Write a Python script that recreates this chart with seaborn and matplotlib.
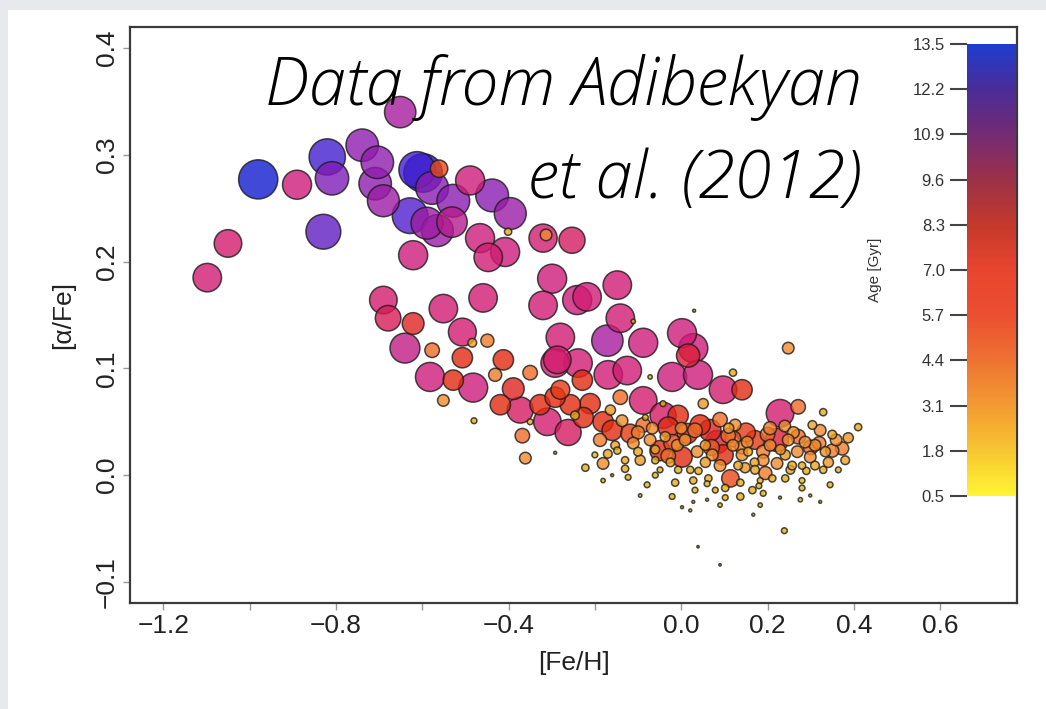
import numpy as np
import pandas as pd
import matplotlib
matplotlib.use("Agg")
import matplotlib.pyplot as plt
import seaborn as sns
from matplotlib.colors import LinearSegmentedColormap, Normalize
from matplotlib.patches import Rectangle
from matplotlib import font_manager
import matplotlib.cm as cm

# ---------------- data ----------------
feh = [-1.098, -1.050, -0.980, -0.890, -0.820, -0.809, -0.829, -0.739, -0.704, -0.709,
       -0.690, -0.651, -0.612, -0.598, -0.561, -0.577, -0.528, -0.628, -0.589, -0.531,
       -0.565, -0.489, -0.438, -0.396, -0.466, -0.447, -0.408, -0.401, -0.621, -0.320,
       -0.313, -0.253, -0.299, -0.320, -0.241, -0.218, -0.148, -0.141, -0.111, -0.171,
       -0.088, 0.002, 0.028, 0.016, -0.021, 0.039, -0.280, 0.030, -0.292, -0.239,
       -0.169, -0.125, -0.690, -0.679, -0.551, -0.459, -0.621, -0.640, -0.577, -0.507,
       -0.449, -0.507, -0.582, -0.528, -0.482, -0.551, -0.480, -0.412, -0.389, -0.350,
       -0.310, -0.292, -0.287, -0.229, -0.262, -0.368, -0.350, -0.361, -0.292, -0.211,
       -0.227, -0.181, -0.141, -0.088, -0.222, -0.181, -0.148, -0.123, -0.079, -0.072,
       -0.042, 0.248, 0.120, 0.097, 0.141, 0.051, 0.229, 0.271, 0.329, 0.410,
       0.222, 0.271, 0.322, 0.350, 0.373, 0.083, -0.049, 0.002, -0.030, -0.118,
       -0.088, 0.014, -0.042, -0.007, -0.111, -0.009, 0.037, 0.097, 0.141, 0.190,
       0.190, 0.120, 0.153, 0.090, 0.114, 0.195, 0.222, 0.269, 0.299, 0.329,
       0.280, -0.130, -0.014, -0.021, 0.028, 0.063, 0.102, 0.102, 0.137, 0.165,
       0.190, 0.241, 0.280, 0.280, 0.229, 0.299, 0.322, 0.167, 0.239, 0.039,
       0.090, 0.060, 0.028, 0.021, 0.002, -0.083, -0.188, -0.160, -0.072, -0.060,
       -0.095, 0.044, 0.067, 0.021, 0.056, 0.148, 0.171, 0.241, 0.310, 0.341,
       0.364, -0.164, -0.246, -0.200, -0.049, 0.079, 0.183, 0.253, -0.160, -0.484,
       -0.431, -0.327, -0.419, -0.373, -0.280, -0.257,
       -0.153, -0.137, -0.100, -0.067, -0.037, -0.025, 0.009, 0.032, 0.056, 0.072,
       0.109, 0.132, 0.155, 0.171, 0.206, 0.211, 0.248, 0.257, 0.287, 0.310,
       0.334, 0.359, 0.380, 0.387, 0.304, 0.206, 0.125, 0.032, -0.007, -0.060,
       0.137, 0.276, 0.345, 0.183, 0.090, -0.095, -0.181,
       -0.17, -0.13, -0.10, -0.06, -0.03, 0.00, 0.04, 0.07, 0.11, 0.14,
       0.17, 0.20, 0.23, 0.26, 0.29, 0.32, 0.35, 0.06, 0.12, 0.18,
       0.24, -0.02, 0.09, 0.15, 0.30]

alpha_fe = [0.185, 0.217, 0.277, 0.272, 0.298, 0.278, 0.228, 0.309, 0.293, 0.273,
            0.257, 0.340, 0.286, 0.283, 0.287, 0.269, 0.257, 0.243, 0.236, 0.237,
            0.229, 0.276, 0.262, 0.245, 0.222, 0.204, 0.209, 0.228, 0.206, 0.222,
            0.225, 0.220, 0.184, 0.159, 0.164, 0.167, 0.178, 0.147, 0.144, 0.126,
            0.124, 0.133, 0.119, 0.112, 0.092, 0.094, 0.129, 0.154, 0.105, 0.105,
            0.094, 0.098, 0.164, 0.147, 0.156, 0.166, 0.142, 0.119, 0.117, 0.134,
            0.126, 0.110, 0.092, 0.089, 0.082, 0.070, 0.051, 0.108, 0.081, 0.096,
            0.050, 0.073, 0.108, 0.089, 0.040, 0.037, 0.050, 0.016, 0.021, 0.067,
            0.054, 0.050, 0.073, 0.070, 0.007, 0.011, 0.023, -0.002, -0.009, 0.092,
            0.067, 0.119, 0.096, 0.080, 0.080, 0.067, 0.058, 0.064, 0.059, 0.045,
            0.033, 0.036, 0.042, 0.023, 0.025, 0.031, 0.023, 0.017, 0.045, 0.039,
            0.047, 0.039, 0.056, 0.056, 0.030, 0.028, 0.022, 0.019, 0.019, 0.022,
            0.014, 0.028, 0.031, 0.009, -0.003, 0.002, 0.011, 0.022, 0.017, 0.005,
            0.009, 0.014, -0.007, -0.020, -0.005, -0.003, -0.012, -0.021, -0.020, -0.014,
            -0.017, -0.003, -0.005, -0.012, -0.021, -0.019, -0.025, -0.037, -0.052, -0.067,
            -0.084, -0.023, -0.025, -0.033, -0.030, 0.054, 0.033, 0.042, 0.033, 0.014,
            0.014, 0.047, 0.042, 0.005, 0.012, 0.007, 0.033, 0.019, 0.028, 0.012,
            0.005, 0.061, 0.056, 0.019, 0.005, -0.014, -0.005, 0.005, 0.000, 0.124,
            0.094, 0.066, 0.066, 0.061, 0.080, 0.066,
            0.028, 0.051, 0.022, 0.044, 0.036, 0.012, 0.033, 0.042, 0.028, 0.019,
            0.037, 0.009, 0.022, 0.005, 0.028, -0.003, 0.033, 0.009, 0.031, 0.009,
            0.022, 0.033, 0.014, 0.035, 0.047, 0.044, 0.047, -0.014, 0.005, 0.000,
            -0.007, -0.023, -0.009, -0.028, -0.028, -0.019, -0.005,
            0.020, 0.006, 0.040, 0.024, 0.018, 0.044, 0.004, 0.026, 0.044, 0.026,
            0.012, 0.038, 0.024, 0.040, 0.004, 0.030, 0.038, -0.008, 0.034, -0.010,
            0.046, 0.030, 0.052, 0.040, 0.026]

age = [9.8, 9.5, 13.5, 10.0, 12.5, 11.5, 12.0, 11.2, 11.2, 11.2,
       11.0, 10.8, 12.5, 13.3, 6.0, 11.3, 11.3, 12.3, 11.0, 10.5,
       11.0, 10.0, 11.3, 11.0, 10.0, 9.8, 10.0, 2.5, 10.0, 9.7,
       4.0, 9.0, 10.0, 9.8, 10.0, 9.8, 9.8, 9.8, 1.5, 10.8,
       10.0, 10.0, 10.0, 8.0, 10.0, 10.0, 9.8, 1.0, 9.8, 9.8,
       9.8, 9.8, 9.5, 8.8, 9.8, 9.8, 7.5, 10.3, 5.0, 9.6,
       4.5, 7.0, 10.0, 7.0, 10.0, 4.0, 2.0, 7.0, 7.5, 5.0,
       9.5, 7.0, 9.5, 7.0, 9.0, 5.0, 2.0, 4.0, 1.0, 7.0,
       7.0, 7.0, 5.0, 9.5, 2.5, 4.0, 2.5, 2.0, 2.0, 1.5,
       2.0, 4.0, 2.5, 9.5, 7.0, 3.5, 9.5, 5.0, 2.5, 2.5,
       8.0, 5.0, 4.0, 4.5, 4.5, 8.0, 7.0, 7.0, 7.0, 6.5,
       5.0, 7.0, 9.0, 7.0, 4.0, 4.0, 4.0, 7.0, 4.0, 4.5,
       4.0, 4.0, 4.0, 4.0, 6.0, 4.5, 4.0, 4.0, 4.0, 2.5,
       2.5, 2.5, 2.5, 2.0, 2.5, 2.5, 2.5, 2.0, 2.5, 2.5,
       2.0, 2.5, 2.0, 2.0, 1.0, 1.0, 1.0, 1.0, 2.0, 0.8,
       0.8, 1.0, 1.0, 1.0, 1.0, 2.0, 4.5, 7.0, 4.0, 2.5,
       3.5, 7.0, 7.5, 2.5, 3.5, 3.5, 6.5, 3.5, 4.0, 3.5,
       2.0, 3.5, 3.0, 2.0, 2.0, 2.0, 2.0, 3.0, 1.0, 3.0,
       4.5, 7.0, 7.0, 9.0, 6.5, 7.0,
       3.0, 4.0, 3.0, 4.0, 3.5, 3.0, 4.0, 5.0, 3.5, 4.0,
       5.0, 3.0, 3.0, 3.0, 4.0, 2.5, 4.0, 3.0, 4.0, 3.0,
       3.5, 4.0, 3.0, 3.5, 3.0, 4.5, 4.0, 2.0, 2.5, 2.0,
       2.5, 1.5, 2.0, 1.5, 1.5, 1.2, 1.5,
       3.0, 2.5, 4.5, 3.0, 5.0, 4.0, 2.5, 5.5, 3.5, 4.5,
       3.0, 5.0, 3.5, 4.0, 2.5, 4.5, 3.0, 2.0, 5.5, 2.0,
       4.0, 6.0, 5.0, 6.5, 5.0]

xticks = [-1.2, -1.0, -0.8, -0.6, -0.4, -0.2, 0.0, 0.2, 0.4, 0.6]
xticklabels = ["\u22121.2", "", "\u22120.8", "", "\u22120.4", "", "0.0", "0.2", "0.4", "0.6"]
yticks = [-0.1, 0.0, 0.1, 0.2, 0.3, 0.4]
yticklabels = ["\u22120.1", "0.0", "0.1", "0.2", "0.3", "0.4"]
cbar_ticks = [0.5, 1.8, 3.1, 4.4, 5.7, 7.0, 8.3, 9.6, 10.9, 12.2, 13.5]
cbar_ticklabels = ["0.5", "1.8", "3.1", "4.4", "5.7", "7.0", "8.3", "9.6", "10.9", "12.2", "13.5"]

# ---------------- styles ----------------
point_nodes = [(0.5, "#e8c800"), (2.0, "#e6b410"), (3.0, "#eaa420"), (4.0, "#f08a2c"),
               (5.0, "#ef6c28"), (6.0, "#e84818"), (7.0, "#e22a10"), (8.0, "#dc1e38"),
               (9.0, "#d61a60"), (10.0, "#d01c78"), (11.3, "#8a1cb2"), (12.5, "#461ed0"),
               (13.5, "#121ccf")]
bar_nodes = [(0.5, "#fff533"), (1.8, "#f8c532"), (3.1, "#f29a32"), (4.4, "#ee7232"),
             (5.7, "#eb4f30"), (7.0, "#e8452f"), (8.3, "#c4392a"), (9.6, "#9c3148"),
             (10.9, "#742b72"), (12.2, "#4a2c98"), (13.5, "#1f3ccf")]
vmin, vmax = 0.5, 13.5


def make_cmap(name, nodes):
    return LinearSegmentedColormap.from_list(
        name, [((v - vmin) / (vmax - vmin), c) for v, c in nodes])


pt_cmap = make_cmap("pts", point_nodes)
bar_cmap = make_cmap("bar", bar_nodes)

sns.set_theme(style="white")
plt.rcParams["font.family"] = ["Liberation Sans", "DejaVu Sans"]

# choose a light italic humanist face for the overlay caption
overlay_family, overlay_weight = "Lato", "normal"
for fam in ["Open Sans", "Noto Sans", "Roboto", "Lato"]:
    found = [f for f in font_manager.fontManager.ttflist
             if f.name == fam and f.style == "italic" and f.weight in (300, "light")]
    if found:
        overlay_family, overlay_weight = fam, 300
        break

W, H = 1046, 709
fig = plt.figure(figsize=(W / 100, H / 100), dpi=100, facecolor="#e8e9ed")
fig.add_artist(Rectangle((8 / W, 0), 1, 1 - 10 / H, transform=fig.transFigure,
                         facecolor="white", edgecolor="none", zorder=-5))

ax = fig.add_axes([130 / W, 1 - 603 / H, (1017 - 130) / W, (603 - 27) / H])

df = pd.DataFrame({"feh": feh, "afe": alpha_fe, "age": age})
df["area"] = df["age"] ** 2
df = df.sort_values("age", ascending=False).reset_index(drop=True)

k = 4.36
sns.scatterplot(data=df, x="feh", y="afe", hue="age", palette=pt_cmap,
                hue_norm=(vmin, vmax), size="area",
                sizes=(k * vmin ** 2, k * vmax ** 2), size_norm=(vmin ** 2, vmax ** 2),
                alpha=0.8, edgecolor="#1c1c1c", linewidth=1.1, legend=False, ax=ax)

ax.set_xlim(-1.277, 0.778)
ax.set_ylim(-0.1197, 0.4197)
ax.set_xticks(xticks)
ax.set_xticklabels(xticklabels)
ax.set_yticks(yticks)
ax.set_yticklabels(yticklabels, rotation=90, va="center")
ax.tick_params(axis="both", direction="out", length=5, width=1, color="#999999",
               labelsize=19, labelcolor="#222222", pad=3, bottom=True, left=True)
for s in ax.spines.values():
    s.set_color("#3a3a3a")
    s.set_linewidth(1.6)
ax.set_xlabel("[Fe/H]", fontsize=19, color="#222222", labelpad=9)
ax.set_ylabel("[\u03b1/Fe]", fontsize=19, color="#222222", labelpad=14)

# colorbar inside the frame on the right
cax = fig.add_axes([967 / W, 1 - 496 / H, 49 / W, 452 / H])
sm = cm.ScalarMappable(norm=Normalize(vmin, vmax), cmap=bar_cmap)
cb = fig.colorbar(sm, cax=cax, ticks=cbar_ticks)
cb.outline.set_visible(False)
cb.set_ticklabels(cbar_ticklabels)
cax.yaxis.set_ticks_position("left")
cax.yaxis.set_label_position("left")
cax.tick_params(length=12, width=1.5, color="#444444", labelsize=12,
                labelcolor="#333333", pad=4)
cb.set_label("Age [Gyr]", fontsize=11, color="#333333", labelpad=22)

# overlay text
txt_kw = dict(ha="right", va="baseline", fontsize=48, style="italic",
              weight=overlay_weight, family=[overlay_family, "DejaVu Sans"], color="black")
fig.text(862 / W, 1 - 105 / H, "Data from Adibekyan", **txt_kw)
fig.text(862 / W, 1 - 198 / H, "et al. (2012)", **txt_kw)

fig.savefig("out.png", dpi=100, facecolor=fig.get_facecolor())
